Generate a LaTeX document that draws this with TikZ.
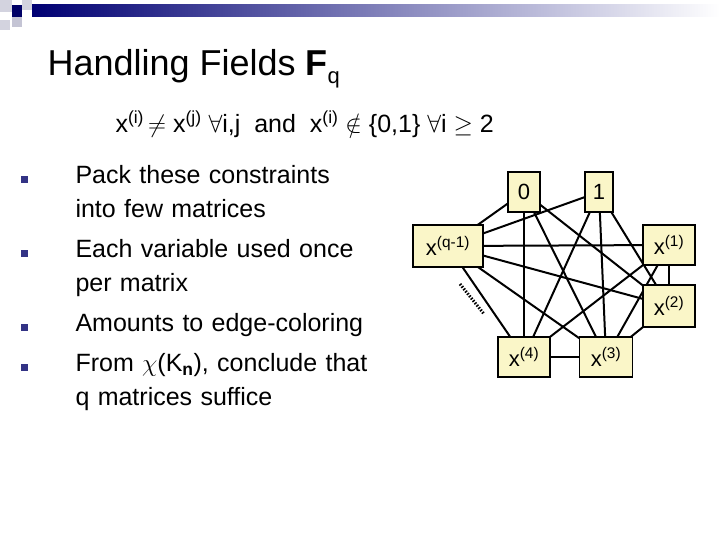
\documentclass[tikz,border=0pt]{standalone}
\usepackage{fontspec}
\setmainfont{Liberation Sans}
\usepackage{amsmath,amssymb}
\pgfdeclarelayer{background}
\pgfsetlayers{background,main}
\newcommand{\sps}[1]{\textsuperscript{(#1)}}
\begin{document}
\begin{tikzpicture}[x=1pt,y=-1pt,
  vbox/.style={draw,line width=1.6pt,fill={rgb,255:red,250;green,246;blue,200},inner sep=0pt,font=\fontsize{22}{24}\selectfont},
  edge/.style={line width=2pt},
  bul/.style={fill=blue!40!black!80,minimum size=7pt,inner sep=0pt},
  btxt/.style={anchor=north west,align=left,font=\fontsize{25}{34}\selectfont,text width=340pt}]
\useasboundingbox (0,0) rectangle (720,540);
\shade[left color=blue!45!black,right color=white] (32,5) rectangle (720,17);
\fill[blue!15!gray!30] (0,0) rectangle (12,12);
\fill[blue!40!black] (12,5) rectangle (22,17);
\fill[blue!15!gray!30] (22,0) rectangle (32,10);
\fill[blue!15!gray!40] (12,17) rectangle (22,27);
\fill[blue!15!gray!30] (0,20) rectangle (10,30);
\node[anchor=base west,font=\fontsize{36}{40}\selectfont] (title) at (44,76) {Handling Fields \textbf{F}\raisebox{-8pt}{\fontsize{22}{24}\selectfont q}};
\node[anchor=base west,font=\fontsize{25}{28}\selectfont] (formula) at (112,133) {x\sps{i}$\,\neq$ x\sps{j} $\forall$i,j\ \ and\ \ x\sps{i} $\notin$ \{0,1\} $\forall$i $\geq$ 2};
\node[bul] (b1) at (24,180) {};
\node[bul] (b2) at (24,253) {};
\node[bul] (b3) at (24,327) {};
\node[bul] (b4) at (24,367) {};
\node[btxt] (t1) at (72,162) {Pack these constraints\\into few matrices};
\node[btxt] (t2) at (72,236) {Each variable used once\\per matrix};
\node[btxt] (t3) at (72,310) {Amounts to edge-coloring};
\node[btxt] (t4) at (72,350) {From $\chi$(K\textsubscript{\textbf{n}}), conclude that\\q matrices suffice};
\node[vbox,minimum width=32pt,minimum height=40pt] (n0) at (524,192) {0};
\node[vbox,minimum width=28pt,minimum height=40pt] (n1) at (599,192) {1};
\node[vbox,minimum width=70pt,minimum height=42pt] (nq) at (448,246) {x\sps{q-1}};
\node[vbox,minimum width=52pt,minimum height=40pt] (x1) at (669,245) {x\sps{1}};
\node[vbox,minimum width=52pt,minimum height=42pt] (x2) at (669,306) {x\sps{2}};
\node[vbox,minimum width=52pt,minimum height=40pt] (x4) at (524,357) {x\sps{4}};
\node[vbox,minimum width=53pt,minimum height=40pt] (x3) at (606,357) {x\sps{3}};
\begin{pgfonlayer}{background}
\foreach \a/\b in {n0/nq,n0/x4,n0/x3,n0/x2,n1/nq,n1/x4,n1/x3,n1/x2,nq/x1,nq/x2,nq/x4,nq/x3,x1/x4,x1/x3,x1/x2,x2/x3,x4/x3}
  \draw[edge] (\a.center) -- (\b.center);
\end{pgfonlayer}
\coordinate (d1) at (460,284);
\coordinate (d2) at (484,314);
\draw[line width=3pt,dash pattern=on 1.5pt off 1.5pt] (d1) -- (d2);
\end{tikzpicture}
\end{document}
